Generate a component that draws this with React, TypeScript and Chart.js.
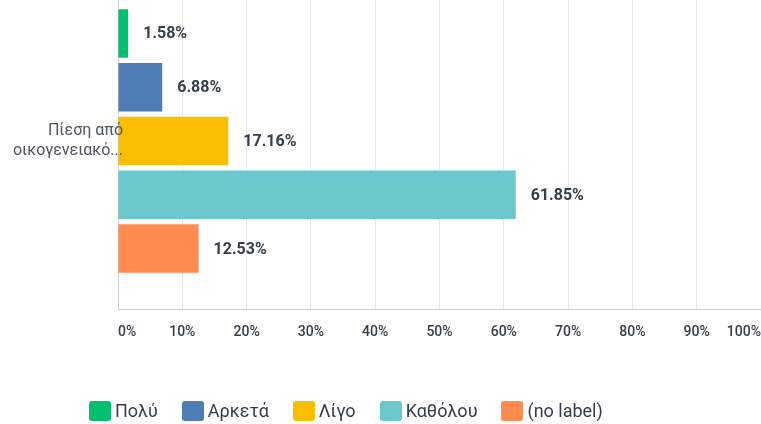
import React, { useEffect, useRef } from "react";
import { Chart, registerables } from "chart.js";

Chart.register(...registerables);

const CATEGORY_LABEL: string[] = ["Πίεση από", "οικογενειακό..."];
const SERIES_NAMES: string[] = ["Πολύ", "Αρκετά", "Λίγο", "Καθόλου", "(no label)"];
const SERIES_VALUES: number[] = [1.58, 6.88, 17.16, 61.85, 12.53];
const X_TICKS_MIN = 0;
const X_TICKS_MAX = 100;
const X_TICK_STEP = 10;

const COLORS = ["#00bf6f", "#507cb6", "#f9be00", "#6bc8cd", "#ff8b4f"];
const TEXT_DARK = "#333e48";
const FONT = "Roboto, 'Noto Sans', sans-serif";

const valueLabels = {
  id: "valueLabels",
  afterDatasetsDraw(chart: any) {
    const ctx = chart.ctx;
    ctx.save();
    ctx.font = `bold 16px ${FONT}`;
    ctx.fillStyle = TEXT_DARK;
    ctx.textAlign = "left";
    ctx.textBaseline = "middle";
    chart.data.datasets.forEach((ds: any, i: number) => {
      const meta = chart.getDatasetMeta(i);
      meta.data.forEach((el: any, j: number) => {
        const v = ds.data[j] as number;
        ctx.fillText(v.toFixed(2) + "%", el.x + 15, el.y + 1);
      });
    });
    ctx.restore();
  },
};

export default function App() {
  const canvasRef = useRef<HTMLCanvasElement | null>(null);

  useEffect(() => {
    if (!canvasRef.current) return;
    const chart = new Chart(canvasRef.current, {
      type: "bar",
      data: {
        labels: [CATEGORY_LABEL],
        datasets: SERIES_NAMES.map((name, i) => ({
          label: name,
          data: [SERIES_VALUES[i]],
          backgroundColor: COLORS[i],
          borderWidth: 0,
          categoryPercentage: 0.8,
          barPercentage: 0.9,
        })),
      },
      options: {
        indexAxis: "y",
        responsive: false,
        animation: false,
        devicePixelRatio: 1,
        layout: { padding: 0 },
        plugins: {
          legend: { display: false },
          tooltip: { enabled: false },
          title: { display: false },
        },
        scales: {
          x: {
            type: "linear",
            min: X_TICKS_MIN,
            max: X_TICKS_MAX,
            afterFit: (scale: any) => {
              scale.height = 115;
              scale.paddingLeft = 0;
              scale.paddingRight = 0;
            },
            grid: { color: "#e8e8e8", lineWidth: 1, drawTicks: false },
            border: { display: true, color: "#cfcfcf", width: 1 },
            ticks: {
              stepSize: X_TICK_STEP,
              align: "inner",
              autoSkip: false,
              maxRotation: 0,
              padding: 15,
              color: TEXT_DARK,
              font: { family: FONT, size: 14, weight: "500" },
              callback: (v: any) => `${v}%`,
            },
          },
          y: {
            type: "category",
            afterFit: (scale: any) => {
              scale.width = 118;
              scale.paddingTop = 0;
              scale.paddingBottom = 0;
              // let the category label overhang the axis line, as in the reference
              scale._computeLabelArea = () => undefined;
            },
            grid: { display: false, drawTicks: false },
            border: { display: true, color: "#cfcfcf", width: 1 },
            ticks: {
              z: 1,
              padding: -5,
              color: "#4d5660",
              font: { family: FONT, size: 16, lineHeight: 1.19 },
            },
          },
        },
      },
      plugins: [valueLabels],
    });
    return () => chart.destroy();
  }, []);

  return (
    <div
      style={{
        position: "fixed",
        left: 0,
        top: 0,
        width: 761,
        height: 424,
        overflow: "hidden",
        background: "#ffffff",
      }}
    >
      <canvas
        ref={canvasRef}
        width={761}
        height={451}
        style={{ position: "absolute", left: 0, top: -27, width: 761, height: 451 }}
      />
      <div
        style={{
          position: "absolute",
          left: 89,
          top: 401,
          display: "flex",
          alignItems: "center",
          fontFamily: FONT,
          fontSize: 18,
          color: TEXT_DARK,
          whiteSpace: "nowrap",
        }}
      >
        {SERIES_NAMES.map((name, i) => (
          <div key={name} style={{ display: "flex", alignItems: "center", marginRight: 24 }}>
            <span
              style={{
                display: "inline-block",
                width: 22,
                height: 20,
                borderRadius: 3,
                background: COLORS[i],
                marginRight: 4,
              }}
            />
            <span style={{ lineHeight: "20px" }}>{name}</span>
          </div>
        ))}
      </div>
    </div>
  );
}
